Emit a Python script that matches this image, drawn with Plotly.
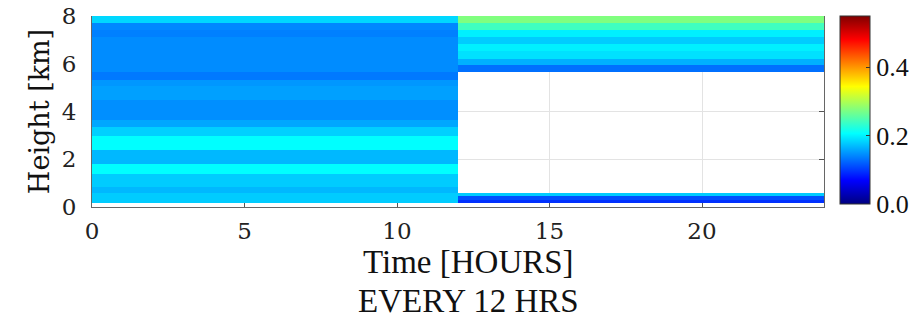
import plotly.graph_objects as go

# ---- data ----
# Column 1: 0-12 h, rows given as height edges (km, ascending) and values
left_time_edges = [0, 12]
left_height_edges = [0.17, 0.59, 0.84, 1.37, 1.82, 2.38, 2.97, 3.36, 3.64,
                     4.48, 5.06, 5.34, 5.64, 7.13, 7.41, 7.72, 8.00]
left_values = [0.179, 0.168, 0.179, 0.206, 0.168, 0.206, 0.181, 0.159,
               0.146, 0.155, 0.150, 0.134, 0.144, 0.138, 0.142, 0.185]

# Column 2: 12-24 h (gap between 0.59 and 5.64 km is empty)
right_time_edges = [12, 24]
right_height_edges = [0.17, 0.31, 0.45, 0.59, 5.64, 5.94, 6.22, 6.52,
                      6.82, 7.13, 7.41, 7.72, 8.00]
right_values = [0.095, 0.112, 0.179, None, 0.129, 0.164, 0.190, 0.198,
                0.179, 0.198, 0.241, 0.275]

x_ticks = [0, 5, 10, 15, 20]
y_ticks = [0, 2, 4, 6, 8]
cbar_ticks = [0.0, 0.2, 0.4]
cmin, cmax = 0.0, 0.55

jet = [[0.0, "rgb(0,0,128)"], [0.125, "rgb(0,0,255)"], [0.375, "rgb(0,255,255)"],
       [0.625, "rgb(255,255,0)"], [0.875, "rgb(255,0,0)"], [1.0, "rgb(128,0,0)"]]

fig = go.Figure()
fig.add_trace(go.Heatmap(x=left_time_edges, y=left_height_edges,
                         z=[[v] for v in left_values], coloraxis="coloraxis",
                         hoverongaps=False))
fig.add_trace(go.Heatmap(x=right_time_edges, y=right_height_edges,
                         z=[[v] for v in right_values], coloraxis="coloraxis",
                         hoverongaps=False))

tick_font = dict(family="DejaVu Serif", size=23, color="#222")
serif = "Liberation Serif"

fig.update_layout(
    width=922, height=320,
    font=dict(family=serif, color="#111"),
    margin=dict(l=92, r=98, t=16, b=113, autoexpand=False),
    paper_bgcolor="white", plot_bgcolor="white",
    coloraxis=dict(
        colorscale=jet, cmin=cmin, cmax=cmax,
        colorbar=dict(
            x=1.0215, xanchor="left", xpad=0,
            y=1.0, yanchor="top", len=0.985, lenmode="fraction",
            thickness=30, thicknessmode="pixels",
            outlinecolor="#333", outlinewidth=1,
            tickvals=cbar_ticks, tickformat=".1f",
            ticks="inside", ticklen=4, tickcolor="#333",
            tickfont=dict(family=serif, size=26, color="#111"),
            ypad=0,
        ),
    ),
    xaxis=dict(
        range=[0, 24], tickvals=x_ticks, ticks="inside", ticklen=5,
        tickcolor="#555", showline=True, linecolor="#666", linewidth=1,
        showgrid=True, gridcolor="#e3e3e3", gridwidth=1, zeroline=False,
        tickfont=tick_font, layer="below traces", ticklabelstandoff=3,
    ),
    yaxis=dict(
        range=[0, 8], tickvals=y_ticks, ticks="inside", ticklen=5,
        tickcolor="#555", showline=True, linecolor="#666", linewidth=1,
        mirror="ticks", showgrid=True, gridcolor="#e3e3e3", gridwidth=1,
        zeroline=False, tickfont=tick_font, layer="below traces",
        ticklabelstandoff=10,
        title=dict(text="Height [km]", font=dict(family="DejaVu Serif", size=27, color="#111"),
                   standoff=4),
    ),
    annotations=[
        dict(text="Time [HOURS]", xref="paper", yref="paper", x=0.515, y=-0.29,
             xanchor="center", yanchor="middle", showarrow=False,
             font=dict(family=serif, size=33, color="#111")),
        dict(text="EVERY 12 HRS", xref="paper", yref="paper", x=0.515, y=-0.49,
             xanchor="center", yanchor="middle", showarrow=False,
             font=dict(family=serif, size=33, color="#111")),
    ],
)

fig.write_html("out.html")
